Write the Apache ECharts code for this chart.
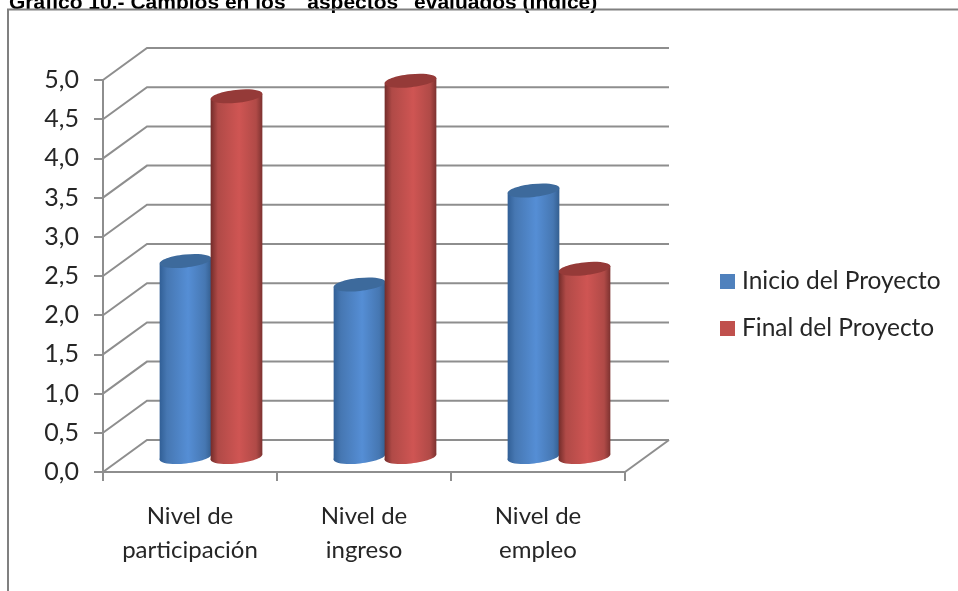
<!DOCTYPE html>
<html><head><meta charset="utf-8">
<style>html,body{margin:0;padding:0;background:#fff}#c{width:958px;height:591px}</style>
<script src="https://cdn.jsdelivr.net/npm/echarts@6/dist/echarts.min.js"></script>
</head><body><div id="c"></div>
<script>
const categories = ['Nivel de\nparticipación', 'Nivel de\ningreso', 'Nivel de\nempleo'];
const inicio = [2.5, 2.2, 3.4];
const final_ = [4.6, 4.8, 2.4];
const yTicks = [0, 0.5, 1, 1.5, 2, 2.5, 3, 3.5, 4, 4.5, 5];
const titleText = 'Gráfico 10.- Cambios en los  "aspectos" evaluados (índice)';

const FONT = 'Lato';
const DEPTH = [44, -32];
const LINE = '#8e8e8e';
const chart = echarts.init(document.getElementById('c'), null, {renderer: 'canvas'});

function wallItem(params, api) {
  const v = api.value(0);
  const front = api.coord([0, v]);
  const bw = api.size([1, 0])[0];
  const x0 = front[0] - bw / 2;
  const x1 = x0 + bw * categories.length;
  const y = front[1];
  const style = {stroke: LINE, lineWidth: 2, fill: null};
  const children = [
    {type: 'polyline', shape: {points: [[x0, y], [x0 + DEPTH[0], y + DEPTH[1]], [x1 + DEPTH[0], y + DEPTH[1]]]}, style}
  ];
  if (v === 0) children.push({type: 'line', shape: {x1: x1, y1: y, x2: x1 + DEPTH[0], y2: y + DEPTH[1]}, style});
  return {type: 'group', children};
}

function cylinder(side, palette) {
  return function (params, api) {
    const idx = api.value(0);
    const top = api.coord([idx, api.value(1)]);
    const base = api.coord([idx, 0]);
    const rx = 26, ry = 6.5, rot = 6 * Math.PI / 180;
    const dx = rx * Math.cos(rot), dy = rx * Math.sin(rot);
    const cx = top[0] + DEPTH[0] / 2 + side * 25.5 - 1;
    const yt = top[1] + DEPTH[1] / 2 + 1;
    const yb = base[1] + DEPTH[1] / 2 + 1;
    const grad = new echarts.graphic.LinearGradient(0, 0, 1, 0, [
      {offset: 0, color: palette[0]},
      {offset: 0.14, color: palette[1]},
      {offset: 0.55, color: palette[2]},
      {offset: 0.88, color: palette[1]},
      {offset: 1, color: palette[3]}
    ]);
    return {
      type: 'group',
      children: [
        {type: 'ellipse', shape: {cx, cy: yb, rx, ry}, rotation: rot, originX: cx, originY: yb, style: {fill: grad}},
        {type: 'polygon', shape: {points: [[cx - dx, yt + dy], [cx + dx, yt - dy], [cx + dx, yb - dy], [cx - dx, yb + dy]]}, style: {fill: grad}},
        {type: 'ellipse', shape: {cx, cy: yt, rx, ry}, rotation: rot, originX: cx, originY: yt, style: {fill: palette[4]}}
      ]
    };
  };
}

const BLUE = ['#315f96', '#4677b2', '#558ed5', '#345f90', '#3d6a9c'];
const RED = ['#732c2a', '#b04a47', '#cf5553', '#7d3230', '#953a38'];

chart.setOption({
  animation: false,
  backgroundColor: '#fff',
  title: {text: titleText, left: 4, top: -12, textStyle: {fontFamily: 'Liberation Sans', fontWeight: 'bold', fontSize: 21, color: '#000'}},
  legend: {
    orient: 'vertical', left: 715, top: 264, itemWidth: 15, itemHeight: 15, itemGap: 22, icon: 'rect',
    data: ['Inicio del Proyecto', 'Final del Proyecto'],
    textStyle: {fontFamily: FONT, fontSize: 24.5, color: '#262626', padding: [0, 0, 0, 2]}
  },
  grid: {left: 103, right: 333, top: 80, bottom: 119},
  xAxis: {
    type: 'category', data: categories,
    axisLine: {lineStyle: {color: LINE, width: 2}},
    axisTick: {show: true, interval: 0, alignWithLabel: false, length: 9, lineStyle: {color: LINE, width: 2}},
    axisLabel: {interval: 0, fontFamily: FONT, fontSize: 24, color: '#262626', lineHeight: 34, margin: 27}
  },
  yAxis: {
    type: 'value', min: 0, max: 5, interval: 0.5,
    splitLine: {show: false},
    axisLine: {show: true, lineStyle: {color: LINE, width: 2}},
    axisTick: {show: true, length: 9, lineStyle: {color: LINE, width: 2}},
    axisLabel: {fontFamily: FONT, fontSize: 25, color: '#262626', margin: 24, formatter: v => v.toFixed(1).replace('.', ',')}
  },
  series: [
    {type: 'custom', name: 'wall', renderItem: wallItem, data: yTicks.map(v => [v]), encode: {y: 0}, silent: true, z: 1, clip: false},
    {type: 'custom', name: 'Inicio del Proyecto', renderItem: cylinder(-1, BLUE), itemStyle: {color: '#4f81bd'},
      data: inicio.map((v, i) => [i, v]), encode: {x: 0, y: 1}, z: 2, clip: false},
    {type: 'custom', name: 'Final del Proyecto', renderItem: cylinder(1, RED), itemStyle: {color: '#c0504d'},
      data: final_.map((v, i) => [i, v]), encode: {x: 0, y: 1}, z: 3, clip: false}
  ],
  graphic: [{type: 'polyline', silent: true, z: 10, shape: {points: [[8, 591], [8, 9.5], [958, 9.5]]}, style: {stroke: '#808080', lineWidth: 2, fill: null}}]
});
</script></body></html>
